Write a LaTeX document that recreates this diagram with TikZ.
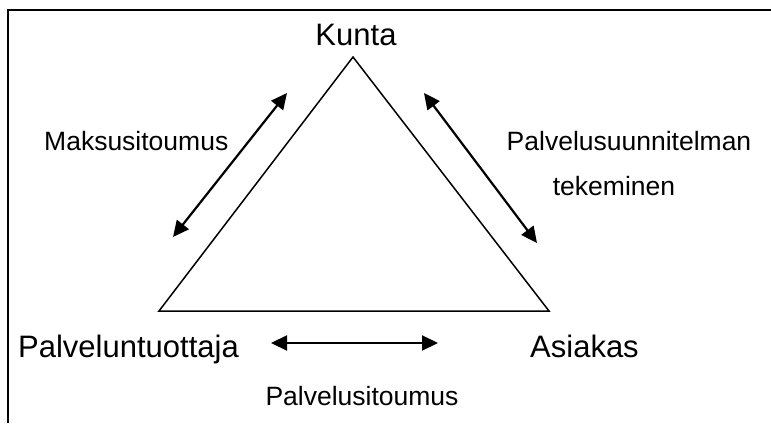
\documentclass[tikz,border=0pt]{standalone}
\usepackage{fontspec}
\setmainfont{Liberation Sans}
\usetikzlibrary{arrows.meta}
\tikzset{
  big/.style={font=\fontsize{31}{36}\selectfont, inner sep=0pt},
  small/.style={font=\fontsize{26.5}{30}\selectfont, inner sep=0pt},
  dbl/.style={line width=2.2pt, {Triangle[length=16pt,width=15pt]}-{Triangle[length=16pt,width=15pt]}},
  frame/.style={line width=2pt},
  tri/.style={line width=1.5pt, line join=miter}
}
\begin{document}
\begin{tikzpicture}[x=1pt,y=-1pt]
\useasboundingbox (0,0) rectangle (771,423);
% frame
\coordinate (fb) at (8,423);
\coordinate (fc) at (8,10);
\coordinate (fr) at (771,10);
\draw[frame] (fb) -- (fc) -- (fr);
% triangle
\coordinate (apex) at (353,57);
\coordinate (bl) at (159,311);
\coordinate (br) at (549,311);
\draw[tri] (apex) -- (bl) -- (br) -- cycle;
% labels
\node[big, anchor=base] (kunta) at (356,45) {Kunta};
\node[big, anchor=base west] (tuottaja) at (18,357) {Palveluntuottaja};
\node[big, anchor=base west] (asiakas) at (530,357) {Asiakas};
\node[small, anchor=base west] (maksu) at (44,150) {Maksusitoumus};
\node[small, anchor=base] (suunn) at (629,150) {Palvelusuunnitelman};
\node[small, anchor=base] (tek) at (614,195) {tekeminen};
\node[small, anchor=base] (sito) at (362,405) {Palvelusitoumus};
% arrows
\coordinate (a1) at (173,237);
\coordinate (a2) at (287,93);
\coordinate (b1) at (424,93);
\coordinate (b2) at (537,243);
\coordinate (c1) at (271,343);
\coordinate (c2) at (438,343);
\draw[dbl] (a1) -- (a2);
\draw[dbl] (b1) -- (b2);
\draw[dbl] (c1) -- (c2);
\end{tikzpicture}
\end{document}
